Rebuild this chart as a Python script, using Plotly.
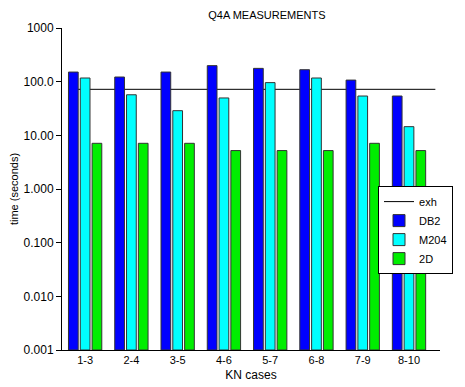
import plotly.graph_objects as go

categories = ["1-3", "2-4", "3-5", "4-6", "5-7", "6-8", "7-9", "8-10"]
db2 = [151, 122, 151, 199, 177, 167, 107, 54]
m204 = [117, 57, 28.8, 49.7, 96, 117, 54, 14.5]
d2 = [7.1, 7.1, 7.1, 5.2, 5.2, 5.2, 7.1, 5.2]
exh = 72
y_tickvals = [0.001, 0.01, 0.1, 1, 10, 100, 1000]
y_ticktext = ["0.001", "0.010", "0.100", "1.000", "10.00", "100.0", "1000"]

FONT = "Liberation Sans, Arial, sans-serif"
idx = list(range(len(categories)))
bw = 0.21
step = 0.255

fig = go.Figure()
# legend-only entry for exh line (line itself drawn as a shape behind bars)
fig.add_trace(go.Scatter(x=[None], y=[None], mode="lines", name="exh",
                         line=dict(color="black", width=1)))
series = [("DB2", db2, "#0000ff", -step), ("M204", m204, "#00ffff", 0.0), ("2D", d2, "#00ee00", step)]
for name, vals, col, off in series:
    fig.add_trace(go.Bar(x=[i + off for i in idx], y=vals, width=bw, name=name,
                         base=0.001,
                         marker=dict(color=col, line=dict(color="#333333", width=1))))

fig.add_shape(type="line", xref="x", yref="y", x0=-0.2, x1=7.57, y0=exh, y1=exh,
              line=dict(color="black", width=1), layer="below")

fig.update_layout(
    width=465, height=387,
    margin=dict(l=62, r=23, t=28, b=37),
    paper_bgcolor="white", plot_bgcolor="white",
    barmode="overlay",
    font=dict(family=FONT, size=12, color="black"),
    title=dict(text="Q4A MEASUREMENTS", x=0.574, xanchor="center", y=0.962, yanchor="middle",
               font=dict(family=FONT, size=11, color="black")),
    showlegend=True,
    legend=dict(x=0.836, y=0.509, xanchor="left", yanchor="top",
                bgcolor="white", bordercolor="black", borderwidth=1,
                font=dict(family=FONT, size=11), tracegroupgap=0,
                itemwidth=30),
    xaxis=dict(range=[-0.5, 7.67], tickmode="array", tickvals=idx, ticktext=categories,
               showline=True, linecolor="black", linewidth=1, ticks="", showgrid=False,
               zeroline=False, tickfont=dict(size=11), ticklabelstandoff=0, automargin=False,
               title=dict(text="KN cases", font=dict(size=12), standoff=5)),
    yaxis=dict(type="log", range=[-3, 3], tickmode="array", tickvals=y_tickvals,
               ticktext=y_ticktext, showline=True, linecolor="black", linewidth=1,
               ticks="outside", ticklen=5, tickcolor="black", showgrid=False,
               zeroline=False, tickfont=dict(size=12), automargin=False,
               title=dict(text="time (seconds)", font=dict(size=11), standoff=2)),
)

fig.write_html("out.html")
